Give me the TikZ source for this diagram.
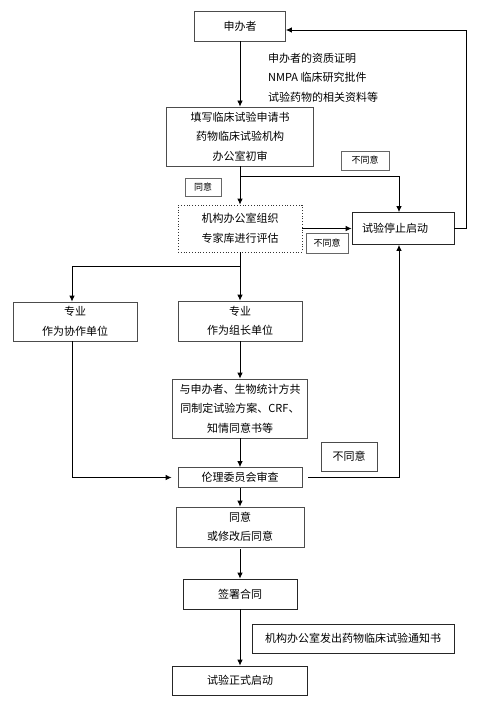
\documentclass[tikz,border=0pt]{standalone}
\usepackage{fontspec}
\setmainfont{Noto Sans CJK SC}
\usetikzlibrary{arrows.meta,calc}
\begin{document}
\begin{tikzpicture}[x=1pt,y=-1pt,
  box/.style={draw=black!70,line width=0.8pt,inner sep=0pt,align=center,
    font=\fontsize{11}{19.5}\selectfont},
  dotbox/.style={box,draw=black!80,dotted},
  lab/.style={draw=black!60,line width=0.6pt,inner sep=0pt,align=center,
    font=\fontsize{9}{11}\selectfont},
  arr/.style={-{Latex[length=6pt,width=5.5pt]},line width=0.8pt,black},
  ln/.style={line width=0.8pt,black}]
\useasboundingbox (0,0) rectangle (489,706);
\fill[white] (0,0) rectangle (489,706);

\node[box,minimum width=91,minimum height=30] (A) at (240,26) {申办者};
\node[anchor=west,inner sep=0pt,align=left,font=\fontsize{11}{19.5}\selectfont] (N) at (268,77.5)
  {申办者的资质证明\\NMPA 临床研究批件\\试验药物的相关资料等};
\node[box,minimum width=147,minimum height=59] (B) at (240,136.5)
  {填写临床试验申请书\\药物临床试验机构\\办公室初审};
\node[dotbox,minimum width=124,minimum height=47] (C) at (240,228.5)
  {机构办公室组织\\专家库进行评估};
\node[box,draw=black!85,text width=82pt,align=left,inner xsep=10pt,minimum height=32] (S) at (403,228.5)
  {试验停止启动};
\node[lab,minimum width=36,minimum height=18] (L1) at (203,187) {同意};
\node[lab,minimum width=48,minimum height=19] (L2) at (365,160.5) {不同意};
\node[lab,minimum width=42,minimum height=20] (L3) at (327,243) {不同意};
\node[box,minimum width=124,minimum height=39] (D) at (75,321.5) {专业\\作为协作单位};
\node[box,minimum width=124,minimum height=40] (E) at (240,321) {专业\\作为组长单位};
\node[box,minimum width=135,minimum height=59] (F) at (240,408.5)
  {与申办者、生物统计方共\\同制定试验方案、CRF、\\知情同意书等};
\node[box,minimum width=124,minimum height=20] (G) at (240,477.5) {伦理委员会审查};
\node[box,minimum width=56,minimum height=29] (L4) at (349,456.5) {不同意};
\node[box,minimum width=128,minimum height=40] (H) at (240,527) {同意\\或修改后同意};
\node[box,draw=black!85,minimum width=114,minimum height=30] (I) at (240,594) {签署合同};
\node[box,draw=black!85,minimum width=202,minimum height=29] (J) at (353,638.5) {机构办公室发出药物临床试验通知书};
\node[box,draw=black!85,minimum width=135,minimum height=29] (K) at (240,680.5) {试验正式启动};

% connectors
\draw[arr] (A.south) -- (B.north);
\draw[arr] (B.south) -- (C.north);
\coordinate (b1) at ($(B.south)+(0,10)$);
\coordinate (s1) at ($(S.north)+(-4,0)$);
\draw[arr] (b1) -| (s1);
\draw[arr] (C.east) -- (S.west);
\coordinate (r1) at (466,30);
\draw[arr] (S.east) -| (r1) -- (r1 -| A.east);
\draw[arr] (C.south) -- (E.north);
\coordinate (c1) at ($(C.south)+(0,14)$);
\coordinate (d1) at ($(D.north)+(-3,0)$);
\coordinate (d2) at ($(D.south)+(-3,0)$);
\draw[arr] (c1) -| (d1);
\draw[arr] (E.south) -- (F.north);
\draw[arr] (F.south) -- (G.north);
\draw[arr,shorten >=6pt] (d2) |- (G.west);
\coordinate (s2) at ($(S.south)+(-4,0)$);
\draw[arr,shorten <=6pt] (G.east) -| (s2);
\draw[arr] (G.south) -- (H.north);
\draw[arr,shorten <=2pt] (H.south) -- (I.north);
\draw[arr] (I.south) -- (K.north);
\end{tikzpicture}
\end{document}
